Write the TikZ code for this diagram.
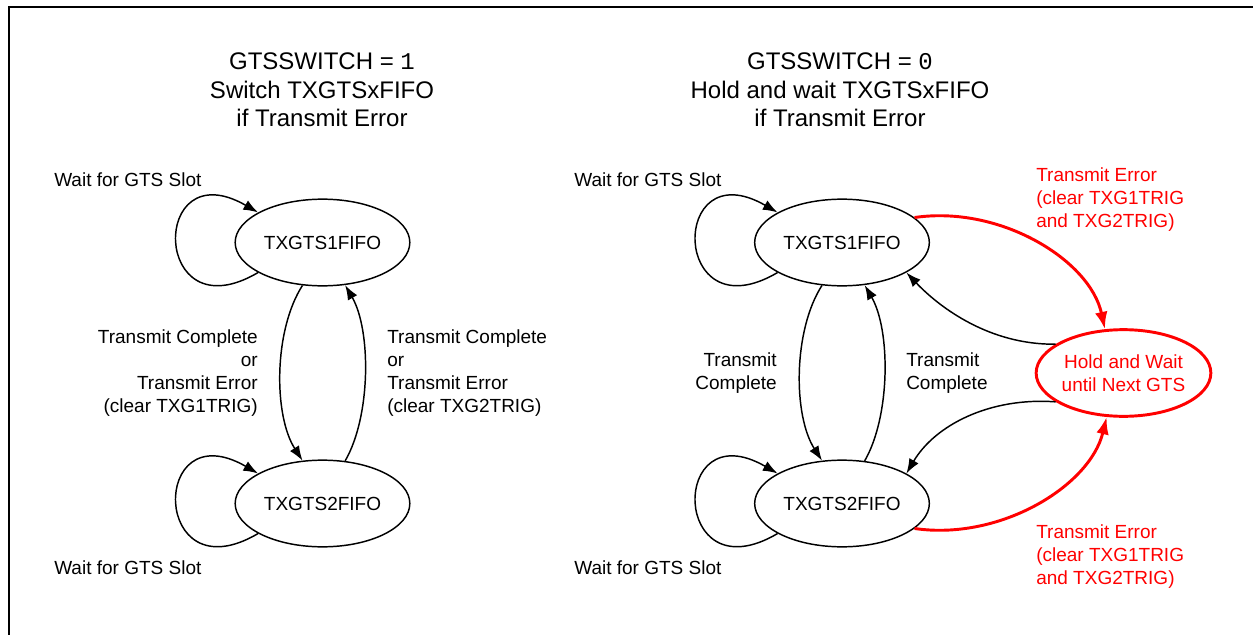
\documentclass[tikz,border=0pt]{standalone}
\usepackage{fontspec}
\setmainfont{Liberation Sans}
\setmonofont{Liberation Mono}
\usetikzlibrary{arrows.meta,shapes.geometric}
\begin{document}
\begin{tikzpicture}[x=0.75pt,y=0.75pt,yscale=-1,
	state/.style={draw,ellipse,line width=1.1pt,minimum width=131pt,minimum height=65pt,inner sep=0pt,font=\fontsize{14.25}{17.25}\selectfont},
	holdstate/.style={state,draw={rgb,255:red,255;green,0;blue,0},text={rgb,255:red,255;green,0;blue,0},line width=2.2pt,align=center},
	lbl/.style={inner sep=0pt,font=\fontsize{14.25}{17.25}\selectfont},
	errlbl/.style={lbl,align=left,text={rgb,255:red,255;green,0;blue,0}},
	ttl/.style={inner sep=0pt,align=center,font=\fontsize{18}{21.5}\selectfont},
	arr/.style={line width=1.1pt,-{Latex[length=11pt,width=8pt]}},
	errarr/.style={line width=2.2pt,draw={rgb,255:red,255;green,0;blue,0},-{Latex[length=13pt,width=9.5pt]}}]
	\clip (0,0) rectangle (1253,635);
	\draw [line width=2.2pt] (9,650) -- (9,7) -- (1270,7) ;
	
	\draw (322,90) node [ttl] (ttlswitch) {GTSSWITCH = \texttt{1}\\Switch TXGTSxFIFO\\if Transmit Error};
	\draw (840,90) node [ttl] (ttlhold) {GTSSWITCH = \texttt{0}\\Hold and wait TXGTSxFIFO\\if Transmit Error};
	
	\draw (322.5,242.5) node [state] (swfifoa) {TXGTS1FIFO};
	\draw (322.5,503.5) node [state] (swfifob) {TXGTS2FIFO};
	\draw (842,242.5) node [state] (hdfifoa) {TXGTS1FIFO};
	\draw (842,503.5) node [state] (hdfifob) {TXGTS2FIFO};
	\draw (1123.5,373) node [holdstate] (hdwait) {Hold and Wait\\until Next GTS};
	
	\draw (54,180) node [lbl,anchor=west] (swwaita) {Wait for GTS Slot};
	\draw (54,568) node [lbl,anchor=west] (swwaitb) {Wait for GTS Slot};
	\draw (574,180) node [lbl,anchor=west] (hdwaita) {Wait for GTS Slot};
	\draw (574,568) node [lbl,anchor=west] (hdwaitb) {Wait for GTS Slot};
	\draw (258,373) node [lbl,anchor=east,align=right] (swdown) {Transmit Complete\\or\\Transmit Error\\(clear TXG1TRIG)};
	\draw (387,373) node [lbl,anchor=west,align=left] (swup) {Transmit Complete\\or\\Transmit Error\\(clear TXG2TRIG)};
	\draw (777,373) node [lbl,anchor=east,align=right] (hddown) {Transmit\\Complete};
	\draw (906,373) node [lbl,anchor=west,align=left] (hdup) {Transmit\\Complete};
	\draw (1036,200) node [errlbl,anchor=west] (hderra) {Transmit Error\\(clear TXG1TRIG\\and TXG2TRIG)};
	\draw (1036,557) node [errlbl,anchor=west] (hderrb) {Transmit Error\\(clear TXG1TRIG\\and TXG2TRIG)};
	
	\draw [arr] (swfifoa.205) .. controls +(-107,63) and +(-109,-63) .. (swfifoa.155) ;
	\draw [arr] (swfifob.205) .. controls +(-107,63) and +(-109,-63) .. (swfifob.155) ;
	\draw [arr] (swfifoa.245) .. controls +(-29,45) and +(-29,-45) .. (swfifob.115) ;
	\draw [arr] (swfifob.62) .. controls +(26,-45) and +(26,45) .. (swfifoa.298) ;
	
	\draw [arr] (hdfifoa.205) .. controls +(-107,63) and +(-109,-63) .. (hdfifoa.155) ;
	\draw [arr] (hdfifob.205) .. controls +(-107,63) and +(-109,-63) .. (hdfifob.155) ;
	\draw [arr] (hdfifoa.245) .. controls +(-29,45) and +(-29,-45) .. (hdfifob.115) ;
	\draw [arr] (hdfifob.62) .. controls +(26,-45) and +(26,45) .. (hdfifoa.298) ;
	\draw [arr] (hdwait.157) .. controls (990,345) and (940,308) .. (hdfifoa.335) ;
	\draw [arr] (hdwait.203) .. controls (990,397) and (935,425) .. (hdfifob.25) ;
	\draw [errarr] (hdfifoa.19) .. controls (1000,205) and (1090,260) .. (hdwait.113) ;
	\draw [errarr] (hdfifob.341) .. controls (1000,541) and (1090,486) .. (hdwait.249) ;
\end{tikzpicture}
\end{document}
